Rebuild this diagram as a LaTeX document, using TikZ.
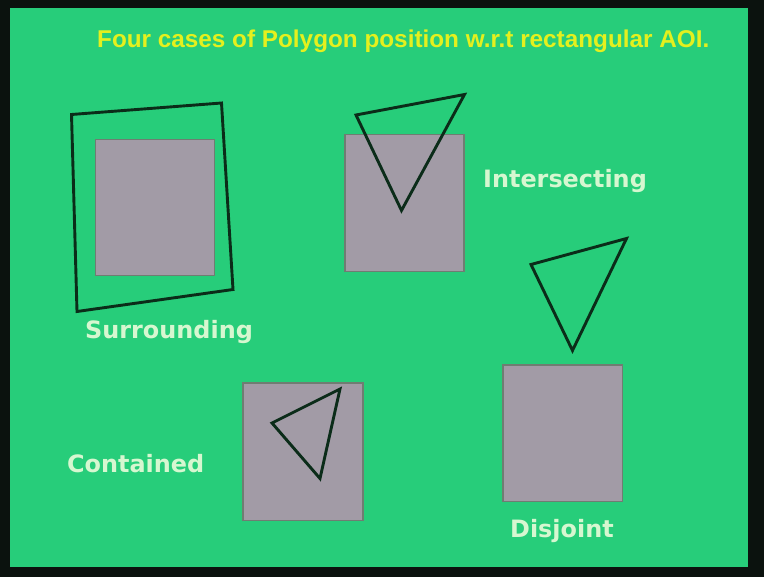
\documentclass[tikz,border=0pt]{standalone}
\usepackage{fontspec}
\setmainfont{Liberation Sans}
\newfontfamily\labelfont{DejaVu Sans}
\definecolor{bggreen}{HTML}{27CD7A}
\definecolor{framecol}{HTML}{0B120E}
\definecolor{aoifill}{HTML}{A29BA6}
\definecolor{aoiedge}{HTML}{6F7D72}
\definecolor{polycol}{HTML}{0B2C19}
\definecolor{labelcol}{HTML}{D6F7D0}
\definecolor{titlecol}{HTML}{E4F01E}
\tikzset{
  aoi/.style={fill=aoifill, draw=aoiedge, line width=1.4pt},
  poly/.style={draw=polycol, line width=2.9pt, line join=miter},
  caselabel/.style={text=labelcol, font=\labelfont\bfseries\fontsize{23.9}{27}\selectfont, inner sep=0pt, anchor=base west},
  titlelabel/.style={text=titlecol, font=\bfseries\fontsize{24.3}{27}\selectfont, inner sep=0pt, anchor=base west}
}
\begin{document}
\begin{tikzpicture}[x=1pt,y=-1pt]
\useasboundingbox (0,0) rectangle (764,577);
\fill[framecol] (0,0) rectangle (764,577);
\fill[bggreen] (10,8) rectangle (748,567);
% title
\node[titlelabel] (title) at (97,48) {Four cases of Polygon position w.r.t rectangular AOI.};
% Surrounding
\draw[aoi] (95.5,139.5) rectangle (214.5,275.5);
\draw[poly] (71.5,114.5) -- (221.5,103) -- (233,289.5) -- (77,311.5) -- cycle;
\node[caselabel] (surr) at (85,339) {Surrounding};
% Intersecting
\draw[aoi] (345,134.5) rectangle (464,271.5);
\draw[poly] (356,115) -- (464.5,94.5) -- (401.5,210.5) -- cycle;
\node[caselabel] (inter) at (483,188) {Intersecting};
% Contained
\draw[aoi] (243,383) rectangle (363,520.5);
\draw[poly] (272,423) -- (340,389) -- (320,478.5) -- cycle;
\node[caselabel] (cont) at (67,473) {Contained};
% Disjoint
\draw[aoi] (503,365) rectangle (622.5,501.5);
\draw[poly] (531,264.5) -- (626.5,238.5) -- (572.5,350.5) -- cycle;
\node[caselabel] (disj) at (510,538) {Disjoint};
\end{tikzpicture}
\end{document}
